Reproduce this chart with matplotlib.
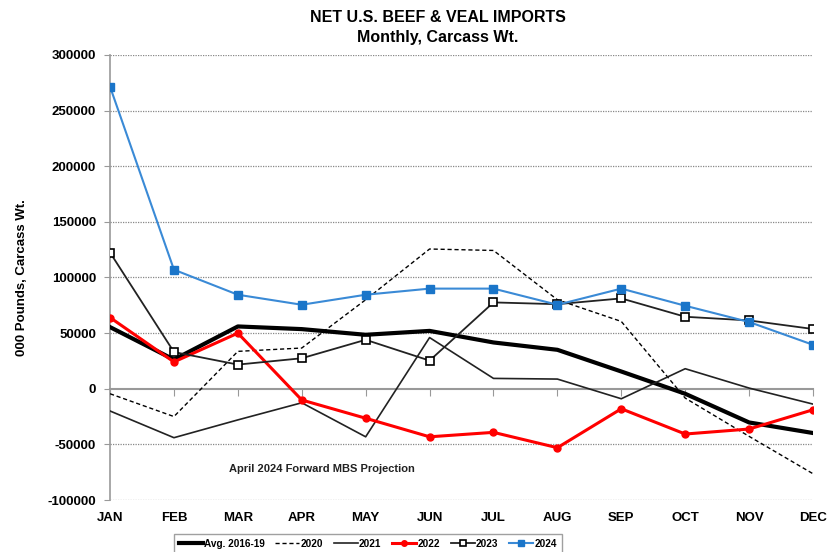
# Net U.S. beef & veal imports, monthly

import matplotlib.pyplot as plt
import matplotlib.transforms as mtransforms

plt.rcParams['font.family'] = ['Liberation Sans', 'DejaVu Sans']
plt.rcParams['font.weight'] = 'bold'

meses = ["JAN", "FEB", "MAR", "APR", "MAY", "JUN", "JUL", "AUG", "SEP", "OCT", "NOV", "DEC"]

media_16_19 = [55400, 26200, 56000, 53600, 48500, 52000, 41600, 35000, 15500, -4500, -30300, -39800]
ano_2020 = [-4500, -25000, 33600, 36600, 80000, 125600, 124300, 80000, 60500, -8400, -42800, -76400]
ano_2021 = [-20000, -44000, -28000, -12600, -43200, 46000, 9300, 8700, -9000, 18000, 600, -13800]
ano_2022 = [64000, 24100, 50000, -10100, -26500, -43200, -39200, -53000, -18000, -40700, -36200, -18900]
ano_2023 = [122400, 33000, 21700, 27400, 44000, 25300, 77600, 76000, 81200, 64700, 61400, 53700]
ano_2024 = [271500, 107000, 84500, 75500, 84500, 90000, 90000, 75500, 90000, 74600, 60000, 39500]

x = list(range(len(meses)))

fig = plt.figure(figsize=(8.28, 5.52), dpi=100)
ax = fig.add_axes([0.1329, 0.0942, 0.849, 0.8062])

azul = "#1a75c9"

ax.plot(x, media_16_19, color="black", linewidth=3, label="Avg. 2016-19", zorder=3)
ax.plot(x, ano_2020, color="black", linewidth=1, linestyle=(0, (3, 2)), label="2020", zorder=3)
ax.plot(x, ano_2021, color="#222222", linewidth=1.2, label="2021", zorder=3)
ax.plot(x, ano_2022, color="red", linewidth=2.2, marker="o", markersize=5, label="2022", zorder=4)
ax.plot(x, ano_2023, color="#222222", linewidth=1.3, marker="s", markersize=5.5,
        markerfacecolor="white", markeredgecolor="black", markeredgewidth=1.2, label="2023", zorder=5)
ax.plot(x, ano_2024, color="#3a8ad6", linewidth=1.5, marker="s", markersize=5.5,
        markerfacecolor=azul, markeredgecolor=azul, label="2024", zorder=6)

ax.set_xlim(0, 11)
ax.set_ylim(-100000, 300000)
ax.set_yticks(range(-100000, 300001, 50000))
ax.set_yticklabels([str(v) for v in range(-100000, 300001, 50000)], fontsize=9.5, fontweight="bold")

# grade pontilhada
for v in range(-100000, 300001, 50000):
    if v != 0:
        ax.axhline(v, color="#888888", linewidth=0.9, linestyle=(0, (1, 1)), zorder=1)

for lado in ["top", "right"]:
    ax.spines[lado].set_visible(False)
ax.spines["left"].set_color("#999999")
ax.spines["left"].set_linewidth(1.2)
ax.spines["bottom"].set_position(("data", 0))
ax.spines["bottom"].set_color("#999999")
ax.spines["bottom"].set_linewidth(1.5)
ax.spines["bottom"].set_zorder(2)

ax.set_xticks(x)
ax.tick_params(axis="x", direction="out", length=5, color="#999999", labelbottom=False)
ax.tick_params(axis="y", direction="out", length=4, color="#999999", pad=6)

trans = mtransforms.blended_transform_factory(ax.transData, ax.transAxes)
for i, m in enumerate(meses):
    ax.text(i, -0.04, m, transform=trans, ha="center", va="center", fontsize=9.5, fontweight="bold")

ax.set_ylabel("000 Pounds, Carcass Wt.", fontsize=9.5, fontweight="bold", labelpad=14)

ax.text(3.32, -72000, "April 2024 Forward MBS Projection", ha="center", va="center",
        fontsize=8, fontweight="bold", color="#222222")

fig.text(0.529, 0.968, "NET U.S. BEEF & VEAL IMPORTS", ha="center", va="center",
         fontsize=11.5, fontweight="bold")
fig.text(0.529, 0.932, "Monthly, Carcass Wt.", ha="center", va="center",
         fontsize=11.5, fontweight="bold")

leg = fig.legend(loc="upper center", bbox_to_anchor=(0.444, 0.042), ncol=6, fontsize=7.2,
                 frameon=True, fancybox=False, edgecolor="#888888", handlelength=2.4,
                 columnspacing=1.1, handletextpad=0.1, borderpad=0.5, markerscale=0.8)
leg.get_frame().set_linewidth(1)

plt.savefig("out.png", dpi=100)
